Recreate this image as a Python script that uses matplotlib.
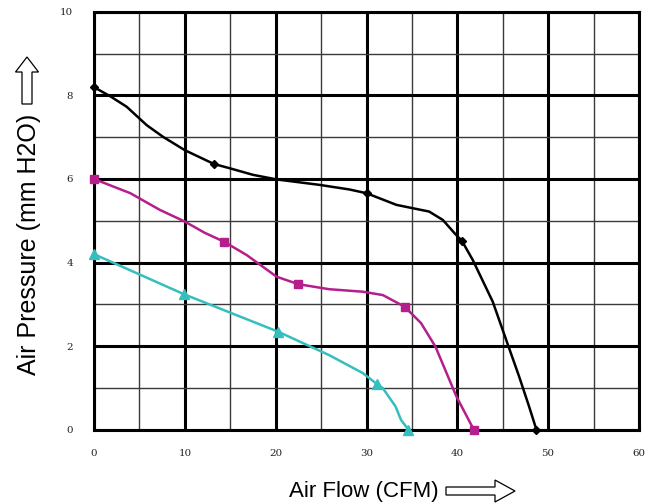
import matplotlib
matplotlib.use("Agg")
import matplotlib.pyplot as plt
from matplotlib.patches import Polygon
from matplotlib.transforms import IdentityTransform

# ---- data ----
x_ticks = [0, 10, 20, 30, 40, 50, 60]
y_ticks = [0, 2, 4, 6, 8, 10]

# black curve (diamonds)
black_x = [0.0, 1.8, 3.6, 5.8, 7.6, 10.0, 13.2, 14.9, 17.5, 20.1, 24.8, 28.1, 30.0,
           33.3, 36.9, 38.4, 39.7, 40.5, 41.7, 43.9, 45.0, 46.8, 47.9, 48.7]
black_y = [8.2, 7.98, 7.73, 7.29, 7.01, 6.69, 6.36, 6.26, 6.10, 5.99, 5.86, 5.75, 5.66,
           5.38, 5.22, 5.02, 4.70, 4.52, 4.06, 3.06, 2.38, 1.27, 0.55, 0.0]
black_mx = [0.0, 13.2, 30.0, 40.5, 48.7]
black_my = [8.2, 6.36, 5.66, 4.52, 0.0]

# magenta curve (squares)
mag_x = [0.0, 4.0, 7.25, 10.0, 12.2, 14.3, 16.8, 20.1, 22.5, 25.9, 29.6, 31.8,
         34.2, 36.0, 37.6, 39.9, 41.8]
mag_y = [6.0, 5.66, 5.26, 4.98, 4.71, 4.50, 4.18, 3.66, 3.48, 3.36, 3.30, 3.22,
         2.94, 2.55, 1.98, 0.79, 0.0]
mag_mx = [0.0, 14.3, 22.5, 34.2, 41.8]
mag_my = [6.0, 4.50, 3.48, 2.94, 0.0]

# cyan curve (triangles)
cyan_x = [0.0, 9.9, 20.3, 25.9, 29.6, 31.2, 31.8, 33.2, 33.8, 34.6]
cyan_y = [4.20, 3.24, 2.34, 1.78, 1.35, 1.08, 0.99, 0.55, 0.23, 0.0]
cyan_mx = [0.0, 9.9, 20.3, 31.2, 34.6]
cyan_my = [4.20, 3.24, 2.34, 1.08, 0.0]

BLACK = "#000000"
MAGENTA = "#B51E8C"
CYAN = "#35BEBE"

fig = plt.figure(figsize=(6.56, 5.04), dpi=100)
ax = fig.add_axes([94/656, 1-429.5/504, (639-94)/656, (429.5-12)/504])

ax.set_xlim(0, 60)
ax.set_ylim(0, 10)

# grid
for v in range(0, 61, 5):
    if v % 10 == 0:
        ax.axvline(v, color="black", lw=2.2, zorder=1)
    else:
        ax.axvline(v, color="#3a3a3a", lw=1.0, zorder=1)
for v in range(0, 11, 1):
    if v % 2 == 0:
        ax.axhline(v, color="black", lw=2.2, zorder=1)
    else:
        ax.axhline(v, color="#3a3a3a", lw=1.0, zorder=1)

for s in ax.spines.values():
    s.set_linewidth(2.2)
    s.set_color("black")

ax.plot(black_x, black_y, color=BLACK, lw=1.8, zorder=3, solid_joinstyle="round")
ax.plot(black_mx, black_my, ls="none", marker="D", ms=4.5, color=BLACK, zorder=4, clip_on=False)
ax.plot(mag_x, mag_y, color=MAGENTA, lw=1.8, zorder=3, solid_joinstyle="round")
ax.plot(mag_mx, mag_my, ls="none", marker="s", ms=6, color=MAGENTA, zorder=4, clip_on=False)
ax.plot(cyan_x, cyan_y, color=CYAN, lw=1.8, zorder=3, solid_joinstyle="round")
ax.plot(cyan_mx, cyan_my, ls="none", marker="^", ms=6.5, color=CYAN, zorder=4, clip_on=False)

ax.set_xticks(x_ticks)
ax.set_yticks(y_ticks)
ax.set_xticklabels([str(t) for t in x_ticks], family="DejaVu Serif", fontsize=7.4, color="#222222")
ax.set_yticklabels([str(t) for t in y_ticks], family="DejaVu Serif", fontsize=7.4, color="#222222")
ax.tick_params(axis="x", length=0, pad=14)
ax.tick_params(axis="y", length=0, pad=15)

# axis titles
fig.text(364/656, 1-491/504, "Air Flow (CFM)", family="Liberation Sans", fontsize=16,
         ha="center", va="center")
fig.text(29/656, 1-244/504, "Air Pressure (mm H2O)", family="Liberation Sans", fontsize=18,
         ha="center", va="center", rotation=90)

# hollow arrows (pixel coords, origin bottom-left)
H = 504
def harrow(x0, x1, yc, sh, hh, hl):
    return [(x0, yc-sh), (x1-hl, yc-sh), (x1-hl, yc-hh), (x1, yc),
            (x1-hl, yc+hh), (x1-hl, yc+sh), (x0, yc+sh)]
def varrow(xc, y0, y1, sh, hh, hl):
    return [(xc-sh, y0), (xc-sh, y1-hl), (xc-hh, y1-hl), (xc, y1),
            (xc+hh, y1-hl), (xc+sh, y1-hl), (xc+sh, y0)]

fig.patches.append(Polygon(harrow(446, 515, H-491, 4, 11, 20), closed=True,
                           facecolor="white", edgecolor="black", lw=0.9,
                           transform=IdentityTransform(), figure=fig))
fig.patches.append(Polygon(varrow(27, H-104, H-57, 5, 11.5, 15), closed=True,
                           facecolor="white", edgecolor="black", lw=0.9,
                           transform=IdentityTransform(), figure=fig))

fig.savefig("out.png", dpi=100)
